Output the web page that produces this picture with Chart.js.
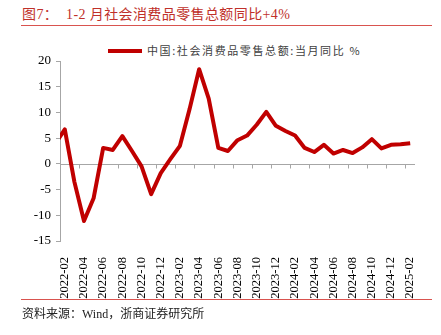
<!DOCTYPE html>
<html>
<head>
<meta charset="utf-8">
<script src="https://cdn.jsdelivr.net/npm/chart.js@4"></script>
<style>
  body { margin: 0; background: #fff; }
  #wrap { position: relative; width: 441px; height: 335px; overflow: hidden; }
  #title { position: absolute; left: 22px; top: 3px; font: 14px "Liberation Serif", "Noto Sans CJK SC", serif; color: #c0302a; letter-spacing: 0.4px; white-space: nowrap; }
  .rule { position: absolute; left: 21px; width: 411px; height: 1px; background: #d9534f; }
  #legend { position: absolute; left: 108px; top: 42px; font: 11px "Noto Sans CJK SC", sans-serif; color: #404040; letter-spacing: 1.6px; white-space: nowrap; }
  #legend span.swatch { display: inline-block; width: 34px; height: 4px; background: #c00000; vertical-align: middle; margin-right: 5px; position: relative; top: -1px; }
  #source { position: absolute; left: 22px; top: 304px; font: 12px "Liberation Serif", "Noto Sans CJK SC", serif; color: #222; white-space: nowrap; }
  canvas { position: absolute; left: 0; top: 0; }
</style>
</head>
<body>
<div id="wrap">
  <div id="title">图7：&nbsp; 1-2 月社会消费品零售总额同比+4%</div>
  <div class="rule" style="top:25px"></div>
  <div id="legend"><span class="swatch"></span>中国:社会消费品零售总额:当月同比 %</div>
  <canvas id="myChart" width="441" height="335"></canvas>
  <div class="rule" style="top:299px"></div>
  <div id="source">资料来源：Wind，浙商证券研究所</div>
</div>
<script>
// months; 2022-01 sits just left of the axis so only its segment shows
const months = [
  '2022-01', '2022-02', '2022-03', '2022-04', '2022-05', '2022-06', '2022-07', '2022-08', '2022-09', '2022-10', '2022-11', '2022-12',
  '2023-01', '2023-02', '2023-03', '2023-04', '2023-05', '2023-06', '2023-07', '2023-08', '2023-09', '2023-10', '2023-11', '2023-12',
  '2024-01', '2024-02', '2024-03', '2024-04', '2024-05', '2024-06', '2024-07', '2024-08', '2024-09', '2024-10', '2024-11', '2024-12',
  '2025-01', '2025-02'
];
const retailYoY = [
  3.9, 6.7, -3.5, -11.1, -6.7, 3.1, 2.7, 5.4, 2.5, -0.5, -5.9, -1.8,
  0.9, 3.5, 10.6, 18.4, 12.7, 3.1, 2.5, 4.6, 5.5, 7.6, 10.1, 7.4,
  6.4, 5.5, 3.1, 2.3, 3.7, 2.0, 2.7, 2.1, 3.2, 4.8, 3.0, 3.7,
  3.8, 4.0
];
const yTicks = [-15, -10, -5, 0, 5, 10, 15, 20];

const axisGray = '#a6a6a6';

// horizontal axis line at zero with tick marks every two months
const zeroAxis = {
    id: 'zeroAxis',
    beforeDatasetsDraw(chart) {
        const x = chart.scales.x, y = chart.scales.y;
        const ctx = chart.ctx;
        const y0 = Math.round(y.getPixelForValue(0)) + 0.5;
        const half = (x.getPixelForValue(2) - x.getPixelForValue(1)) / 2;
        ctx.save();
        ctx.strokeStyle = axisGray;
        ctx.lineWidth = 1;
        ctx.beginPath();
        ctx.moveTo(chart.chartArea.left, y0);
        ctx.lineTo(chart.chartArea.right, y0);
        for (let i = 1; i < months.length; i += 2) {
            const px = Math.round(x.getPixelForValue(i) - half) + 0.5;
            ctx.moveTo(px, y0);
            ctx.lineTo(px, y0 + 4);
        }
        ctx.stroke();
        ctx.restore();
    }
};

const ctx = document.getElementById('myChart');
new Chart(ctx, {
    type: 'line',
    data: {
        labels: months,
        datasets: [{
            label: '中国:社会消费品零售总额:当月同比 %',
            data: retailYoY,
            borderColor: '#c00000',
            backgroundColor: '#c00000',
            borderWidth: 4,
            pointRadius: 0,
            tension: 0,
            borderJoinStyle: 'round',
            clip: { left: 0, right: 6, top: 6, bottom: 6 }
        }]
    },
    options: {
        responsive: false,
        animation: false,
        layout: { padding: { top: 61, right: 26, left: 0, bottom: 0 } },
        plugins: {
            legend: { display: false },
            tooltip: { enabled: false }
        },
        scales: {
            x: {
                type: 'category',
                min: '2022-02',
                offset: true,
                grid: { display: false },
                border: { display: false },
                ticks: {
                    autoSkip: false,
                    minRotation: 90,
                    maxRotation: 90,
                    padding: 8,
                    color: '#000',
                    font: { family: 'Liberation Serif', size: 12.5 },
                    callback: function (val) {
                        return val % 2 === 1 ? this.getLabelForValue(val) : '';
                    }
                },
                afterFit: (scale) => { scale.height = 94; }
            },
            y: {
                min: -15,
                max: 20,
                afterBuildTicks: (scale) => { scale.ticks = yTicks.map(v => ({ value: v })); },
                grid: { drawOnChartArea: false, drawTicks: true, tickLength: 4, color: axisGray },
                border: { color: axisGray },
                ticks: {
                    padding: 5,
                    color: '#000',
                    font: { family: 'Liberation Serif', size: 13 }
                },
                afterFit: (scale) => { scale.width = 60; }
            }
        }
    },
    plugins: [zeroAxis]
});
</script>
</body>
</html>
